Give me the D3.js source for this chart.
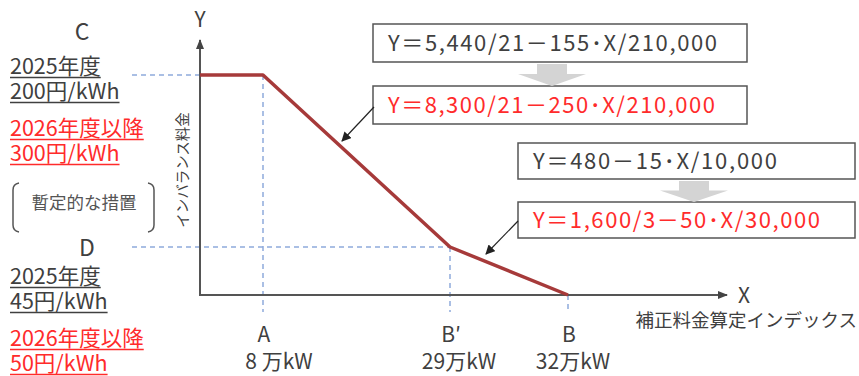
<!DOCTYPE html>
<html>
<head>
<meta charset="utf-8">
<script src="https://cdn.jsdelivr.net/npm/d3@7"></script>
<style>
  body { margin: 0; background: #fff; }
  text { font-family: "Noto Sans CJK JP", "Noto Sans", sans-serif; }
</style>
</head>
<body>
<div id="chart"></div>
<script>
// key points on the X axis (万kW)
var pointNames = ["A", "B′", "B"];
var pointValues = [8, 29, 32];
var pointLabels = ["8 万kW", "29万kW", "32万kW"];

// imbalance price curve (X: 万kW, Y: 円/kWh, 2026年度以降)
var curveX = [0, 8, 29, 32];
var curveY = [300, 300, 50, 0];

// price levels C / D
var levelNames = ["C", "D"];
var levelValues = [300, 50];
var levelEnds = [8, 29];
var note2025 = ["200円/kWh", "45円/kWh"];
var note2026 = ["300円/kWh", "50円/kWh"];

// formulas
var formulaOld = ["Y＝5,440/21－155･X/210,000", "Y＝480－15･X/10,000"];
var formulaNew = ["Y＝8,300/21－250･X/210,000", "Y＝1,600/3－50･X/30,000"];

var W = 859, H = 376;
var grey = "#404040", red = "#ff2b2b", blue = "#8eaadb", lineRed = "#a63a3a";

var svg = d3.select("#chart").append("svg")
  .attr("width", W)
  .attr("height", H);

var defs = svg.append("defs");
defs.append("marker")
  .attr("id", "axhead")
  .attr("viewBox", "0 0 10 10")
  .attr("refX", 9).attr("refY", 5)
  .attr("markerWidth", 5).attr("markerHeight", 5)
  .attr("markerUnits", "strokeWidth")
  .attr("orient", "auto")
  .append("path").attr("d", "M0,1 L10,5 L0,9 Z").attr("fill", "#444");
defs.append("marker")
  .attr("id", "callhead")
  .attr("viewBox", "0 0 10 10")
  .attr("refX", 9).attr("refY", 5)
  .attr("markerWidth", 8).attr("markerHeight", 8)
  .attr("markerUnits", "strokeWidth")
  .attr("orient", "auto")
  .append("path").attr("d", "M0,0 L10,5 L0,10 Z").attr("fill", "#222");

// schematic (piecewise) scales
var x = d3.scaleLinear().domain([0, 8, 29, 32]).range([200, 263, 450, 568]);
var y = d3.scaleLinear().domain([0, 50, 300]).range([295, 247, 75]);

// dashed guides
var g = svg.append("g").attr("stroke", blue).attr("stroke-width", 1.5)
  .attr("stroke-dasharray", "5,4").attr("fill", "none");
levelValues.forEach(function(v, i){
  g.append("line")
    .attr("x1", 132).attr("x2", x(levelEnds[i]))
    .attr("y1", y(v)).attr("y2", y(v));
});
pointValues.forEach(function(v){
  var yTop = v === 8 ? y(300) : (v === 29 ? y(50) : y(0));
  g.append("line")
    .attr("x1", x(v)).attr("x2", x(v))
    .attr("y1", yTop).attr("y2", 312);
});

// axes
svg.append("line")
  .attr("x1", x(0)).attr("y1", y(0) + 1)
  .attr("x2", x(0)).attr("y2", 40)
  .attr("stroke", "#555").attr("stroke-width", 2)
  .attr("marker-end", "url(#axhead)");
svg.append("line")
  .attr("x1", x(0) - 1).attr("y1", y(0))
  .attr("x2", 727).attr("y2", y(0))
  .attr("stroke", "#555").attr("stroke-width", 2)
  .attr("marker-end", "url(#axhead)");

svg.append("text").attr("x", x(0)).attr("y", 27)
  .attr("text-anchor", "middle").attr("font-size", 21).attr("fill", grey).text("Y");
svg.append("text").attr("x", 744).attr("y", 303)
  .attr("text-anchor", "middle").attr("font-size", 21).attr("fill", grey).text("X");
svg.append("text").attr("x", 857).attr("y", 327)
  .attr("text-anchor", "end").attr("font-size", 18.5).attr("fill", grey)
  .text("補正料金算定インデックス");
svg.append("text")
  .attr("transform", "translate(188,170)rotate(-90)")
  .attr("text-anchor", "middle").attr("font-size", 14.5).attr("fill", grey)
  .text("インバランス料金");

// curve
var line = d3.line()
  .x(function(d){ return x(d[0]); })
  .y(function(d){ return y(d[1]); });
svg.append("path")
  .datum(d3.zip(curveX, curveY))
  .attr("d", line)
  .attr("fill", "none")
  .attr("stroke", lineRed)
  .attr("stroke-width", 3.5)
  .attr("stroke-linejoin", "round");

// x point labels
var ptOffset = [16, 9, 5];
pointNames.forEach(function(n, i){
  svg.append("text").attr("x", x(pointValues[i]) + 1).attr("y", 342)
    .attr("text-anchor", "middle").attr("font-size", 21).attr("fill", grey).text(n);
  svg.append("text").attr("x", x(pointValues[i]) + ptOffset[i]).attr("y", 369)
    .attr("text-anchor", "middle").attr("font-size", 21).attr("fill", grey).text(pointLabels[i]);
});

// left notes
var leftTop = [0, 210];
var letterY = [40, 256];
levelNames.forEach(function(n, i){
  var t = leftTop[i];
  svg.append("text").attr("x", i === 0 ? 82 : 87).attr("y", letterY[i])
    .attr("text-anchor", "middle").attr("font-size", 23).attr("fill", grey).text(n);
  var rows = [
    { s: "2025年度", c: grey, b: t + 74 },
    { s: note2025[i], c: grey, b: t + 99 },
    { s: "2026年度以降", c: red, b: t + 136 },
    { s: note2026[i], c: red, b: t + 161 }
  ];
  rows.forEach(function(r){
    var tx = svg.append("text").attr("x", 10).attr("y", r.b)
      .attr("font-size", 21.5).attr("fill", r.c).text(r.s);
    var w = tx.node().getComputedTextLength();
    svg.append("line")
      .attr("x1", 10).attr("x2", 10 + w)
      .attr("y1", r.b + 3.5).attr("y2", r.b + 3.5)
      .attr("stroke", r.c).attr("stroke-width", 1.3);
  });
});

// bracketed note
svg.append("text").attr("x", 84).attr("y", 209)
  .attr("text-anchor", "middle").attr("font-size", 17.5).attr("fill", "#555").text("暫定的な措置");
svg.append("path").attr("d", "M19,183 Q13,184 13,190 L13,225 Q13,231 19,232")
  .attr("fill", "none").attr("stroke", "#555").attr("stroke-width", 1.5);
svg.append("path").attr("d", "M148,183 Q154,184 154,190 L154,225 Q154,231 148,232")
  .attr("fill", "none").attr("stroke", "#555").attr("stroke-width", 1.5);

// formula boxes
var boxes = [
  { x: 373, w: 374, yOld: 24, yNew: 86, h: 38, ax: 552,
    lenOld: 329, lenNew: 327, tip: [342, 141], from: [374, 107] },
  { x: 518, w: 337, yOld: 143, yNew: 202, h: 36, ax: 694,
    lenOld: 244, lenNew: 287, tip: [486, 254], from: [518, 221] }
];
boxes.forEach(function(b, i){
  [[b.yOld, formulaOld[i], grey, b.lenOld], [b.yNew, formulaNew[i], red, b.lenNew]].forEach(function(r){
    svg.append("rect").attr("x", b.x).attr("y", r[0])
      .attr("width", b.w).attr("height", b.h)
      .attr("fill", "#fff").attr("stroke", "#555").attr("stroke-width", 1.5);
    svg.append("text").attr("x", b.x + 15).attr("y", r[0] + b.h / 2 + 8)
      .attr("font-size", 22).attr("fill", r[2])
      .attr("textLength", r[3]).attr("lengthAdjust", "spacing")
      .text(r[1]);
  });
  // grey block arrow
  var top = b.yOld + b.h + 2, bot = b.yNew, mid = top + (bot - top) * 0.45;
  svg.append("path")
    .attr("d", "M" + (b.ax - 15) + "," + top + " L" + (b.ax + 15) + "," + top +
      " L" + (b.ax + 15) + "," + mid + " L" + (b.ax + 34) + "," + mid +
      " L" + b.ax + "," + bot + " L" + (b.ax - 34) + "," + mid +
      " L" + (b.ax - 15) + "," + mid + " Z")
    .attr("fill", "#d4d4d4");
  // callout arrow
  svg.append("line")
    .attr("x1", b.from[0]).attr("y1", b.from[1])
    .attr("x2", b.tip[0]).attr("y2", b.tip[1])
    .attr("stroke", "#222").attr("stroke-width", 1.2)
    .attr("marker-end", "url(#callhead)");
});
</script>
</body>
</html>
